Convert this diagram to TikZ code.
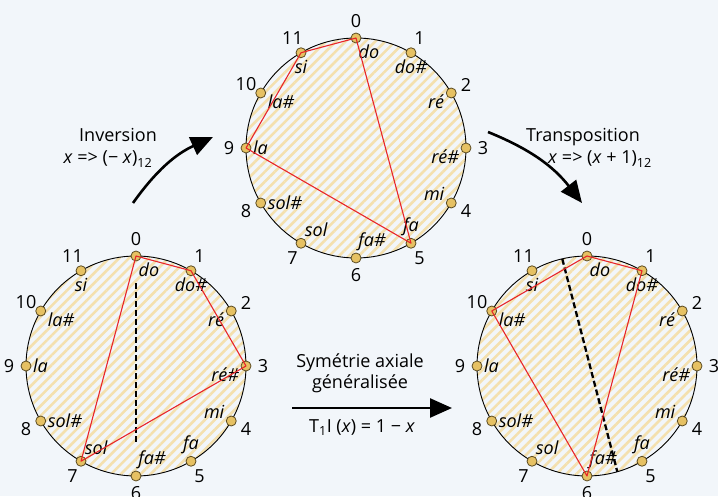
\documentclass[tikz,border=0pt]{standalone}
\usepackage{fontspec}
\setmainfont{Open Sans}
\usetikzlibrary{positioning, arrows.meta, calc, patterns.meta}
\definecolor{fondbleu}{HTML}{F2F6FA}
\definecolor{raiejaune}{HTML}{F4E0AE}
\definecolor{orpastille}{HTML}{E6C163}
\definecolor{bordor}{HTML}{5C4C22}
\definecolor{rougecorde}{HTML}{E8262A}

\begin{document}
\begin{tikzpicture}[x=1pt,y=1pt,
  font=\fontsize{18}{21}\selectfont,
  cercle/.style={draw=black, line width=0.9pt,
    pattern={Lines[angle=45,distance=7pt,line width=2.6pt]}, pattern color=raiejaune},
  pastille/.style={circle, fill=orpastille, draw=bordor, line width=0.8pt,
    minimum size=10pt, inner sep=0pt},
  note/.style={font=\fontsize{18}{21}\selectfont\itshape, inner sep=1.5pt},
  chiffre/.style={inner sep=0pt},
  corde/.style={rougecorde, line width=1.1pt, line join=round},
  axe/.style={black, line width=2.3pt, dash pattern=on 6pt off 3pt},
  fleche/.style={line width=2.6pt, -{Triangle[length=22pt,width=19pt]}},
]
\fill[fondbleu] (0,0) rectangle (718,496);
\useasboundingbox (0,0) rectangle (718,496);

% centres des trois cercles
\coordinate (t) at (356,348);
\coordinate (g) at (136,130);
\coordinate (d) at (587,130);

\foreach \c in {t,g,d}
  \draw[cercle] (\c) circle (110);

% axes de symetrie
\coordinate (ga) at ($(g)+(0,83)$);
\coordinate (gb) at ($(g)+(0,-76)$);
\draw[axe] (ga) -- (gb);
\coordinate (da) at ($(d)+(103:110)$);
\coordinate (db) at ($(d)+(-74:110)$);
\draw[axe] (da) -- (db);

% pastilles, numeros et noms des notes
\foreach \c in {t,g,d}{
  \foreach \i/\nom/\cote in {0/do/-80, 1/do\#/-92, 2/ré/183, 3/ré\#/183,
      4/mi/170, 5/fa/90, 6/fa\#/84, 7/sol/65, 8/sol\#/0, 9/la/0,
      10/la\#/-5, 11/si/-90}{
    \node[pastille, label={[note, name=\c m\i]\cote:\nom}] (\c\i)
      at ($(\c)+({90-30*\i}:110)$) {};
    \node[chiffre] (\c n\i) at ($(\c)+({90-30*\i}:127)$) {\i};
  }
}

% accords
\draw[corde] (t0.center) -- (t5.center) -- (t9.center) -- (t11.center) -- cycle;
\draw[corde] (g0.center) -- (g1.center) -- (g3.center) -- (g7.center) -- cycle;
\draw[corde] (d0.center) -- (d1.center) -- (d6.center) -- (d10.center) -- cycle;

% transformations
\coordinate (inv1) at (133,293);
\coordinate (inv2) at (213,359);
\draw[fleche] (inv1) to[bend left=15] (inv2);
\node (inv) at (118,361) {Inversion};
\node (invf) at (108,337) {\textit{x} => (− \textit{x})\textsubscript{12}};

\coordinate (tr1) at (488,364);
\coordinate (tr2) at (582,293);
\draw[fleche] (tr1) to[bend left=15] (tr2);
\node (tr) at (583,359) {Transposition};
\node (trf) at (600,337) {\textit{x} => (\textit{x} + 1)\textsubscript{12}};

\coordinate (sy1) at (292,88);
\coordinate (sy2) at (452,88);
\draw[fleche] (sy1) -- (sy2);
\node (sy) at (360,133) {Symétrie axiale};
\node[below=-4pt of sy] (syb) {généralisée};
\node (syf) at (362,68) {T\textsubscript{1}I (\textit{x}) = 1 − \textit{x}};
\end{tikzpicture}
\end{document}
